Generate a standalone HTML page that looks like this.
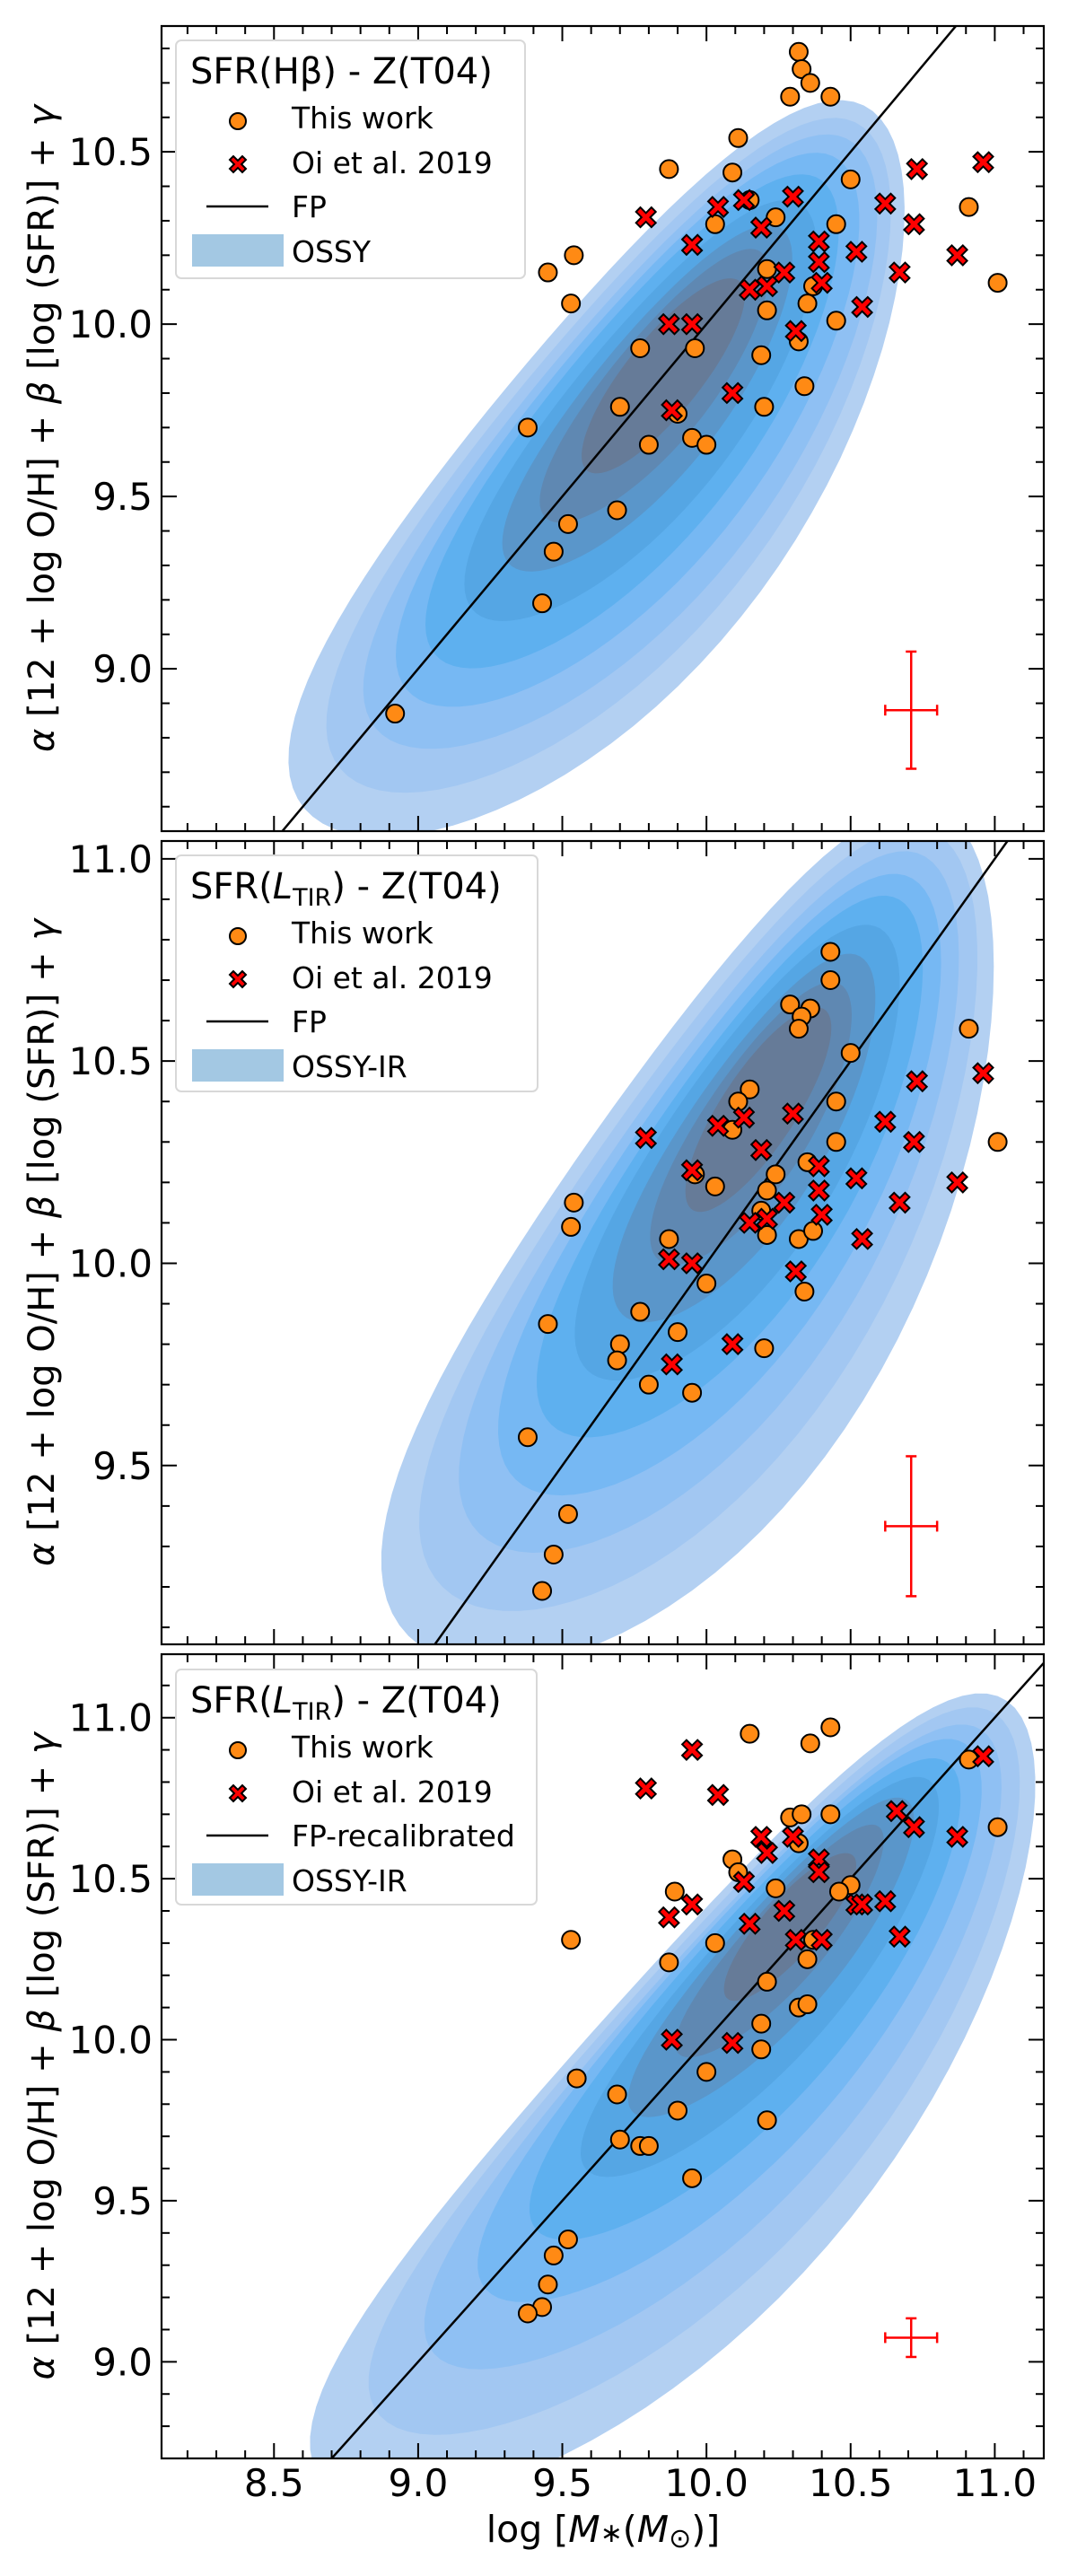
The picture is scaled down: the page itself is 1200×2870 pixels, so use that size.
<!DOCTYPE html>
<html><head><meta charset="utf-8">
<style>
html,body{margin:0;padding:0;background:#fff;}
svg{display:block;font-family:"DejaVu Sans","Liberation Sans",sans-serif;}
</style></head>
<body>
<svg id="fig" width="1200" height="2870" viewBox="0 0 1200 2870" xmlns="http://www.w3.org/2000/svg"></svg>
<script>
// ---------- data ----------
const orange1X=[10.32,10.33,10.36,10.29,10.43,10.11,9.87,10.09,10.50,10.15,10.91,10.03,10.24,10.45,9.54,9.45,10.21,11.01,10.37,9.53,10.35,10.21,10.45,10.32,9.77,9.96,10.19,10.34,10.20,9.70,9.90,9.38,9.80,9.95,10.00,9.69,9.52,9.47,9.43,8.92];
const orange1Y=[10.79,10.74,10.70,10.66,10.66,10.54,10.45,10.44,10.42,10.36,10.34,10.29,10.31,10.29,10.20,10.15,10.16,10.12,10.11,10.06,10.06,10.04,10.01,9.95,9.93,9.93,9.91,9.82,9.76,9.76,9.74,9.70,9.65,9.67,9.65,9.46,9.42,9.34,9.19,8.87];
const oiX=[9.79,10.04,10.13,10.30,10.62,10.73,10.96,9.95,10.19,10.39,10.72,10.52,10.39,10.27,10.40,10.21,10.15,10.67,10.87,9.87,9.95,10.54,10.31,10.09,9.88];
const oi1Y=[10.31,10.34,10.36,10.37,10.35,10.45,10.47,10.23,10.28,10.24,10.29,10.21,10.18,10.15,10.12,10.11,10.10,10.15,10.20,10.00,10.00,10.05,9.98,9.80,9.75];
const oi2Y=[10.31,10.34,10.36,10.37,10.35,10.45,10.47,10.23,10.28,10.24,10.30,10.21,10.18,10.15,10.12,10.11,10.10,10.15,10.20,10.01,10.00,10.06,9.98,9.80,9.75];
const orange2X=[10.43,10.43,10.29,10.36,10.33,10.32,10.91,10.50,10.15,10.11,10.45,10.09,10.45,11.01,9.96,10.03,10.24,10.35,9.54,10.21,9.53,10.19,10.21,9.87,10.32,10.37,10.00,10.34,9.77,9.45,9.90,9.70,9.69,10.20,9.80,9.95,9.38,9.52,9.47,9.43];
const orange2Y=[10.77,10.70,10.64,10.63,10.61,10.58,10.58,10.52,10.43,10.40,10.40,10.33,10.30,10.30,10.22,10.19,10.22,10.25,10.15,10.18,10.09,10.13,10.07,10.06,10.06,10.08,9.95,9.93,9.88,9.85,9.83,9.80,9.76,9.79,9.70,9.68,9.57,9.38,9.28,9.19];
const orange3X=[10.15,10.43,10.36,10.91,10.43,10.29,10.33,11.01,10.32,10.09,10.11,10.50,10.46,10.24,9.89,9.53,10.03,10.37,9.87,10.35,10.21,10.32,10.35,10.19,10.19,10.00,9.55,9.69,9.90,10.21,9.70,9.77,9.80,9.95,9.52,9.47,9.45,9.43,9.38];
const orange3Y=[10.95,10.97,10.92,10.87,10.70,10.69,10.70,10.66,10.61,10.56,10.52,10.48,10.46,10.47,10.46,10.31,10.30,10.31,10.24,10.25,10.18,10.10,10.11,10.05,9.97,9.90,9.88,9.83,9.78,9.75,9.69,9.67,9.67,9.57,9.38,9.33,9.24,9.17,9.15];
const oi3X=[9.95,9.79,10.04,10.96,10.66,10.72,10.87,10.19,10.30,10.21,10.39,10.39,10.13,9.95,9.87,10.27,10.52,10.54,10.62,10.15,10.31,10.40,10.67,9.88,10.09];
const oi3Y=[10.90,10.78,10.76,10.88,10.71,10.66,10.63,10.63,10.63,10.58,10.56,10.52,10.49,10.42,10.38,10.40,10.42,10.42,10.43,10.36,10.31,10.31,10.32,10.00,9.99];
const xTicks=[8.5,9.0,9.5,10.0,10.5,11.0];
const xTickLabels=["8.5","9.0","9.5","10.0","10.5","11.0"];
const y1Ticks=[9.0,9.5,10.0,10.5];
const y2Ticks=[9.5,10.0,10.5,11.0];
const y3Ticks=[9.0,9.5,10.0,10.5,11.0];
// contour levels: [centre-u, centre-v, half-length-u, half-width-v, bend] with u=(x+y)/2, v=y-x
const contours1=[[9.60,-0.12,1.00,0.74,0.22],[9.64,-0.11,0.92,0.66,0.18],[9.68,-0.10,0.84,0.59,0.15],[9.71,-0.08,0.76,0.52,0.12],[9.73,-0.06,0.68,0.45,0.09],[9.76,-0.05,0.58,0.38,0.07],[9.79,-0.03,0.48,0.30,0.05],[9.82,-0.01,0.38,0.23,0.03],[9.85,0.00,0.27,0.17,0.0]];
const contours2=[[10.00,0.04,0.98,0.80,0.26],[10.04,0.06,0.90,0.70,0.21],[10.08,0.08,0.81,0.61,0.17],[10.12,0.10,0.72,0.53,0.13],[10.16,0.12,0.63,0.45,0.10],[10.19,0.14,0.53,0.38,0.07],[10.22,0.16,0.43,0.30,0.05],[10.25,0.18,0.33,0.23,0.03],[10.28,0.20,0.24,0.16,0.0]];
const contours3=[[9.85,-0.18,1.20,0.74,0.28],[9.93,-0.15,1.08,0.65,0.23],[10.00,-0.12,0.96,0.56,0.18],[10.07,-0.08,0.84,0.48,0.14],[10.13,-0.05,0.72,0.40,0.10],[10.19,-0.02,0.60,0.32,0.07],[10.24,0.01,0.48,0.25,0.05],[10.28,0.04,0.35,0.18,0.03],[10.32,0.06,0.22,0.13,0.0]];
const levelColors=["#b3d0f2","#a2c7f2","#8fc0f3","#76b8f3","#5eb0ef","#55a6e4","#5a96ca","#5f88b2","#667b98"];
const fpLine=[[8.0,8.0],[11.3,11.3]];
const err1=[10.71,8.88,0.09,0.17], err2=[10.71,9.35,0.09,0.173], err3=[10.71,9.075,0.09,0.06];

// ---------- layout ----------
const NS="http://www.w3.org/2000/svg";
const svg=document.getElementById('fig');
const XL=180,XR=1163,XMIN=8.11,XMAX=11.17;
function xs(v){return XL+(v-XMIN)*(XR-XL)/(XMAX-XMIN);}
function mk(tag,attrs,parent){const e=document.createElementNS(NS,tag);for(const k in attrs)e.setAttribute(k,attrs[k]);(parent||svg).appendChild(e);return e;}

const panels=[
 {top:29,bot:926,ymin:8.529,ymax:10.865,ticks:y1Ticks,cont:contours1,ox:orange1X,oy:orange1Y,rx:oiX,ry:oi1Y,err:err1,title:'SFR(Hβ) - Z(T04)',tir:false,line:'FP',patch:'OSSY',box:[196,45,389,265]},
 {top:937,bot:1832,ymin:9.058,ymax:11.044,ticks:y2Ticks,cont:contours2,ox:orange2X,oy:orange2Y,rx:oiX,ry:oi2Y,err:err2,title:'',tir:true,line:'FP',patch:'OSSY-IR',box:[196,953,403,263]},
 {top:1843,bot:2739,ymin:8.70,ymax:11.197,ticks:y3Ticks,cont:contours3,ox:orange3X,oy:orange3Y,rx:oi3X,ry:oi3Y,err:err3,title:'',tir:true,line:'FP-recalibrated',patch:'OSSY-IR',box:[196,1860,402,262]}
];

function xMarker(g,cx,cy,s){
  const a=s*0.22,b=s*0.5;
  const pts=[[-b,-b+a],[-b+a,-b],[0,-a],[b-a,-b],[b,-b+a],[a,0],[b,b-a],[b-a,b],[0,a],[-b+a,b],[-b,b-a],[-a,0]];
  return mk('polygon',{points:pts.map(p=>(cx+p[0]).toFixed(1)+','+(cy+p[1]).toFixed(1)).join(' '),fill:'#ff0000',stroke:'#000','stroke-width':2,'stroke-linejoin':'miter'},g);
}

panels.forEach((P,pi)=>{
  const ys=v=>P.bot-(v-P.ymin)*(P.bot-P.top)/(P.ymax-P.ymin);
  const g=mk('g',{});
  
  
  const cid='clip'+pi;
  const cp=mk('clipPath',{id:cid},g);
  mk('rect',{x:XL,y:P.top,width:XR-XL,height:P.bot-P.top},cp);
  const cg=mk('g',{'clip-path':'url(#'+cid+')'},g);
  
  
  P.cont.forEach((c,li)=>{
    let d='';
    for(let i=0;i<=90;i++){const t=i/90*2*Math.PI;const ct=Math.cos(t);const u=c[0]+c[2]*ct;
      const v=c[1]+c[3]*Math.sin(t)+c[4]*(ct*ct-0.5);
      const x=u-v/2,y=u+v/2;d+=(i?'L':'M')+xs(x).toFixed(1)+','+ys(y).toFixed(1);}
    const p=mk('path',{d:d+'Z',fill:levelColors[li]},cg);
    
    
  });
  const ln=mk('line',{x1:xs(fpLine[0][0]),y1:ys(fpLine[0][1]),x2:xs(fpLine[1][0]),y2:ys(fpLine[1][1]),stroke:'#000','stroke-width':2.5,'clip-path':'url(#'+cid+')'},g);
  
  
  const og=mk('g',{},g);
  
  
  P.ox.forEach((x,i)=>{
    const c=mk('circle',{cx:xs(x),cy:ys(P.oy[i]),r:10,fill:'#ff8a14',stroke:'#000','stroke-width':2},og);
    
    
  });
  const rg=mk('g',{},g);
  
  
  P.rx.forEach((x,i)=>{
    const m=xMarker(rg,xs(x),ys(P.ry[i]),22);
    
    
  });
  const E=P.err,eg=mk('g',{stroke:'#ff0000','stroke-width':2.5},g);
  
  
  mk('line',{x1:xs(E[0]-E[2]),x2:xs(E[0]+E[2]),y1:ys(E[1]),y2:ys(E[1])},eg);
  mk('line',{x1:xs(E[0]),x2:xs(E[0]),y1:ys(E[1]-E[3]),y2:ys(E[1]+E[3])},eg);
  [E[0]-E[2],E[0]+E[2]].forEach(a=>mk('line',{x1:xs(a),x2:xs(a),y1:ys(E[1])-6,y2:ys(E[1])+6},eg));
  [E[1]-E[3],E[1]+E[3]].forEach(b=>mk('line',{x1:xs(E[0])-6,x2:xs(E[0])+6,y1:ys(b),y2:ys(b)},eg));
  const tg=mk('g',{stroke:'#000','stroke-width':2},g);
  
  
  for(let k=82;k<=111;k++){const v=k/10;const X=xs(v);if(X<XL||X>XR)continue;const maj=(k%5===0);const L=maj?17:9;
    mk('line',{x1:X,x2:X,y1:P.bot,y2:P.bot-L},tg);mk('line',{x1:X,x2:X,y1:P.top,y2:P.top+L},tg);}
  for(let k=80;k<=115;k++){const v=k/10;const Y=ys(v);if(Y<P.top||Y>P.bot)continue;const maj=(k%5===0);const L=maj?17:9;
    mk('line',{x1:XL,x2:XL+L,y1:Y,y2:Y},tg);mk('line',{x1:XR,x2:XR-L,y1:Y,y2:Y},tg);}
  const fr=mk('rect',{x:XL,y:P.top,width:XR-XL,height:P.bot-P.top,fill:'none',stroke:'#000','stroke-width':2.2},g);
  
  
  P.ticks.forEach(v=>{
    const t=mk('text',{x:170,y:ys(v)+15,'text-anchor':'end','font-size':42},g);
    t.textContent=v.toFixed(1);
    
    
  });
  const yc=(P.top+P.bot)/2;
  const yt=mk('text',{x:0,y:0,transform:'translate(60,'+yc+') rotate(-90)','text-anchor':'middle','font-size':40},g);
  
  
  yt.innerHTML='<tspan font-style="italic">α</tspan> [12 + log O/H] + <tspan font-style="italic">β</tspan> [log (SFR)] + <tspan font-style="italic">γ</tspan>';
  const B=P.box,lg=mk('g',{},g);
  
  
  mk('rect',{x:B[0],y:B[1],width:B[2],height:B[3],rx:6,fill:'#fff','fill-opacity':0.85,stroke:'#d8d8d8','stroke-width':2},lg);
  const b0=B[1];
  const tt=mk('text',{x:B[0]+16,y:b0+48,'font-size':40},lg);
  
  
  if(P.tir) tt.innerHTML='SFR(<tspan font-style="italic">L</tspan><tspan font-size="27" dy="8">TIR</tspan><tspan dy="-8">) - Z(T04)</tspan>';
  else tt.textContent=P.title;
  const rowY=[98,148,197,247].map(d=>b0+d);
  const tx=B[0]+129;
  const labels=['This work','Oi et al. 2019',P.line,P.patch];
  labels.forEach((s,i)=>{const t=mk('text',{x:tx,y:rowY[i],'font-size':33},lg);t.textContent=s;
    
    });
  const lc=mk('circle',{cx:B[0]+69,cy:rowY[0]-8,r:9,fill:'#ff8a14',stroke:'#000','stroke-width':2},lg);
  
  
  const lx=xMarker(lg,B[0]+69,rowY[1]-10,18);
  
  
  const ll=mk('line',{x1:B[0]+34,x2:B[0]+103,y1:rowY[2]-12,y2:rowY[2]-12,stroke:'#000','stroke-width':2.5},lg);
  
  
  const lp=mk('rect',{x:B[0]+18,y:rowY[3]-31,width:102,height:36,fill:'#a3c8e3'},lg);
  
  
  if(pi===2){
    xTicks.forEach((v,i)=>{const t=mk('text',{x:xs(v),y:P.bot+42,'text-anchor':'middle','font-size':42},g);t.textContent=xTickLabels[i];
      
      });
    const xt=mk('text',{x:672,y:2832,'text-anchor':'middle','font-size':41},g);
    
    
    xt.innerHTML='log [<tspan font-style="italic">M</tspan><tspan font-size="30">∗</tspan>(<tspan font-style="italic">M</tspan><tspan font-size="30" dy="6">⊙</tspan><tspan dy="-6">)]</tspan>';
  }
});
</script>
</body></html>
